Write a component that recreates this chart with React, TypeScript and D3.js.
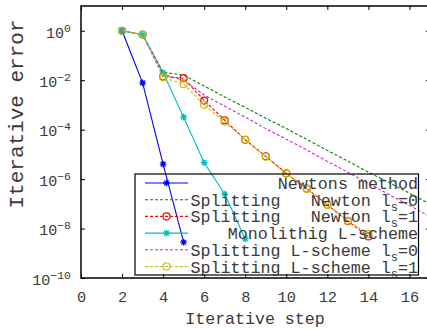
import { useEffect, useRef } from "react";
import * as d3 from "d3";

// iterations and errors
const newtonSteps = [2, 3, 4, 5];
const newtonError = [1, 7.8e-3, 4e-6, 2.8e-9];

const splitNewton0Steps = [2, 3, 4, 5, 6, 7, 8, 9, 10, 11, 12, 13, 14, 15, 16, 17];
const splitNewton0Error = [1, 0.7, 2.1e-2, 1.6e-2, 5.8e-3, 2.1e-3, 7.9e-4, 2.9e-4, 1.1e-4, 4e-5, 1.45e-5, 5.3e-6, 1.9e-6, 7.2e-7, 2.7e-7, 9.8e-8];

const splitNewton1Steps = [2, 3, 4, 5, 6, 7, 8, 9, 10, 11, 12, 13, 14];
const splitNewton1Error = [1, 0.7, 1.4e-2, 1.2e-2, 1.5e-3, 2.4e-4, 3.9e-5, 8.3e-6, 1.7e-6, 4.1e-7, 9.1e-8, 2e-8, 4.8e-9];

const monoLSteps = [2, 3, 4, 5, 6, 7, 8];
const monoLError = [1, 0.7, 2e-2, 3.2e-4, 4.6e-6, 2.5e-7, 3.8e-9];

const splitL0Steps = [2, 3, 4, 5, 6, 7, 8, 9, 10, 11, 12, 13, 14, 15, 16, 17];
const splitL0Error = [1, 0.7, 1.7e-2, 1e-2, 2.5e-3, 8.9e-4, 3.2e-4, 1.1e-4, 4.1e-5, 1.5e-5, 5.2e-6, 1.9e-6, 6.7e-7, 2.4e-7, 8.6e-8, 3e-8];

const splitL1Steps = [2, 3, 4, 5, 6, 7, 8, 9, 10, 11, 12, 13, 14];
const splitL1Error = [1, 0.7, 1.3e-2, 6.9e-3, 1e-3, 2.1e-4, 3.9e-5, 8e-6, 1.7e-6, 4e-7, 9e-8, 2.1e-8, 6e-9];

const xTicks = [0, 2, 4, 6, 8, 10, 12, 14, 16];
const yTicks = [1, 1e-2, 1e-4, 1e-6, 1e-8, 1e-10];

type Marker = "star" | "circle" | "none";

interface Series {
    steps: number[];
    values: number[];
    color: string;
    dash: string | null;
    marker: Marker;
    label: string;
    sub?: string;
    tail?: string;
}

const series: Series[] = [
    { steps: newtonSteps, values: newtonError, color: "#0000ff", dash: null, marker: "star", label: "Newtons method" },
    { steps: splitNewton0Steps, values: splitNewton0Error, color: "#008000", dash: "3,2", marker: "none", label: "Splitting   Newton l", sub: "s", tail: "=0" },
    { steps: splitNewton1Steps, values: splitNewton1Error, color: "#ff0000", dash: "3,2", marker: "circle", label: "Splitting   Newton l", sub: "s", tail: "=1" },
    { steps: monoLSteps, values: monoLError, color: "#00bfbf", dash: null, marker: "star", label: "Monolithig L-scheme" },
    { steps: splitL0Steps, values: splitL0Error, color: "#d222d2", dash: "3,2", marker: "none", label: "Splitting L-scheme l", sub: "s", tail: "=0" },
    { steps: splitL1Steps, values: splitL1Error, color: "#c4c400", dash: "3,2", marker: "circle", label: "Splitting L-scheme l", sub: "s", tail: "=1" },
];

const FONT = "'Liberation Mono', 'Courier New', monospace";
const TEXT_COLOR = "#3a3a3a";

function drawMarker(g: any, type: Marker, cx: number, cy: number, color: string) {
    if (type === "star") {
        const r = 3.3;
        const a = r * 0.72;
        g.append("path")
            .attr("d", `M${cx - r},${cy}L${cx + r},${cy}M${cx},${cy - r}L${cx},${cy + r}M${cx - a},${cy - a}L${cx + a},${cy + a}M${cx - a},${cy + a}L${cx + a},${cy - a}`)
            .attr("stroke", color)
            .attr("stroke-width", 1.3)
            .attr("fill", "none");
    } else if (type === "circle") {
        g.append("circle")
            .attr("cx", cx)
            .attr("cy", cy)
            .attr("r", 3.5)
            .attr("fill", "none")
            .attr("stroke", color)
            .attr("stroke-width", 1.2);
    }
}

export default function App() {
    const svgRef = useRef<SVGSVGElement | null>(null);

    useEffect(() => {
        if (!svgRef.current) return;

        const width = 427;
        const height = 329;
        const margin = { top: 6, right: -3, bottom: 51, left: 81 };
        const innerWidth = width - margin.left - margin.right;
        const innerHeight = height - margin.top - margin.bottom;

        const svg = d3.select(svgRef.current);
        svg.selectAll("*").remove();
        svg.attr("width", width).attr("height", height);

        const g = svg.append("g").attr("transform", `translate(${margin.left},${margin.top})`);

        const x = d3.scaleLinear().domain([0, 17]).range([0, innerWidth]);
        const y = d3.scaleLog().domain([1e-10, 10]).range([innerHeight, 0]);

        // bottom axis with labels
        const xAxisG = g.append("g")
            .attr("transform", `translate(0,${innerHeight})`)
            .call(d3.axisBottom(x).tickValues(xTicks).tickSizeInner(-4).tickSizeOuter(0).tickPadding(13).tickFormat(d3.format("d")));
        // top ticks
        const xTopG = g.append("g")
            .call(d3.axisTop(x).tickValues(xTicks).tickSizeInner(-4).tickSizeOuter(0).tickFormat(() => ""));

        // left axis with 10^n labels
        const yAxisG = g.append("g")
            .call(d3.axisLeft(y).tickValues(yTicks).tickSizeInner(-4).tickSizeOuter(0).tickPadding(10));
        const yRightG = g.append("g")
            .attr("transform", `translate(${innerWidth},0)`)
            .call(d3.axisRight(y).tickValues(yTicks).tickSizeInner(-4).tickSizeOuter(0).tickFormat(() => ""));

        [xAxisG, xTopG, yAxisG, yRightG].forEach(ax => {
            ax.select(".domain").remove();
            ax.selectAll("line").attr("stroke", "#000").attr("stroke-width", 1);
        });

        xAxisG.selectAll("text")
            .style("font-family", FONT)
            .style("font-size", "15.3px")
            .attr("fill", TEXT_COLOR);

        yAxisG.selectAll("text").each(function (d: any) {
            const t = d3.select(this);
            const exp = Math.round(Math.log10(d));
            t.text(null)
                .attr("dy", "0.42em")
                .attr("fill", TEXT_COLOR)
                .style("font-family", FONT)
                .style("font-size", "15px");
            t.append("tspan").text("10");
            t.append("tspan").attr("dy", -6).style("font-size", "11.5px").text(String(exp).replace("-", "\u2212"));
        });

        // lines
        const clipId = "plot-clip";
        svg.append("defs").append("clipPath").attr("id", clipId)
            .append("rect").attr("width", innerWidth).attr("height", innerHeight);

        const plot = g.append("g").attr("clip-path", `url(#${clipId})`);

        series.forEach(s => {
            const pts: [number, number][] = s.steps.map((st, i) => [st, s.values[i]]);
            const line = d3.line<[number, number]>()
                .x(p => x(p[0]))
                .y(p => y(p[1]));
            plot.append("path")
                .datum(pts)
                .attr("fill", "none")
                .attr("stroke", s.color)
                .attr("stroke-width", 1.1)
                .attr("stroke-dasharray", s.dash)
                .attr("d", line);
            pts.forEach(p => drawMarker(plot, s.marker, x(p[0]), y(p[1]), s.color));
        });

        // frame
        g.append("rect")
            .attr("width", innerWidth)
            .attr("height", innerHeight)
            .attr("fill", "none")
            .attr("stroke", "#000")
            .attr("stroke-width", 1.5);

        // axis titles
        g.append("text")
            .attr("x", 255 - margin.left)
            .attr("y", 324 - margin.top)
            .attr("text-anchor", "middle")
            .attr("fill", TEXT_COLOR)
            .style("font-family", FONT)
            .style("font-size", "16.6px")
            .text("Iterative step");

        svg.append("text")
            .attr("transform", "translate(23,114) rotate(-90)")
            .attr("text-anchor", "middle")
            .attr("fill", TEXT_COLOR)
            .style("font-family", FONT)
            .style("font-size", "21px")
            .text("Iterative error");

        // legend
        const legend = svg.append("g");
        legend.append("rect")
            .attr("x", 135)
            .attr("y", 174)
            .attr("width", 283.5)
            .attr("height", 101)
            .attr("fill", "none")
            .attr("stroke", "#000")
            .attr("stroke-width", 1.2);

        series.forEach((s, i) => {
            const cy = 183 + i * 16.7;
            legend.append("line")
                .attr("x1", 145).attr("x2", 188)
                .attr("y1", cy).attr("y2", cy)
                .attr("stroke", s.color)
                .attr("stroke-width", 1.1)
                .attr("stroke-dasharray", s.dash);
            drawMarker(legend, s.marker, 166.5, cy, s.color);

            const t = legend.append("text")
                .attr("x", 418)
                .attr("y", cy + 6)
                .attr("text-anchor", "end")
                .attr("fill", TEXT_COLOR)
                .style("font-family", FONT)
                .style("font-size", "16.7px")
                .style("white-space", "pre");
            t.append("tspan").text(s.label);
            if (s.sub) {
                t.append("tspan").attr("dy", 5).style("font-size", "12px").text(s.sub);
                t.append("tspan").attr("dy", -5).text(s.tail ?? "");
            }
        });
    }, []);

    return (
        <svg ref={svgRef} style={{ position: "absolute", left: 0, top: 0, background: "#fff" }}></svg>
    );
}
